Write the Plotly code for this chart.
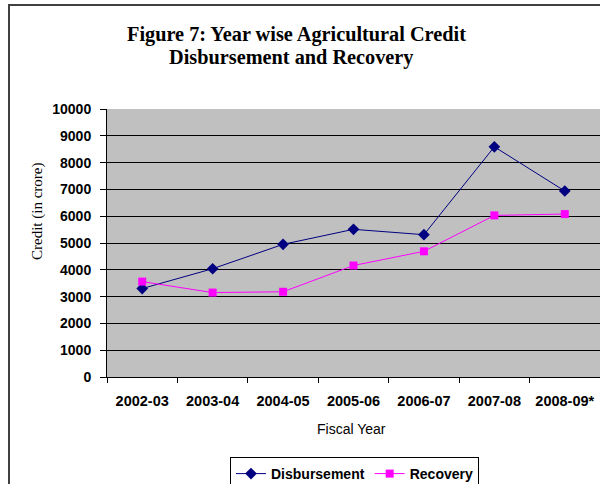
import plotly.graph_objects as go

# Fiscal years and credit figures (in crore)
years = ["2002-03", "2003-04", "2004-05", "2005-06", "2006-07", "2007-08", "2008-09*"]
disbursement = [3300, 4040, 4950, 5510, 5310, 8590, 6940]
recovery = [3560, 3150, 3180, 4160, 4690, 6030, 6080]
y_ticks = list(range(0, 10001, 1000))
y_tick_text = [str(v) for v in y_ticks]

fig = go.Figure()
fig.add_trace(go.Scatter(
    x=years, y=disbursement, name="Disbursement", mode="lines+markers",
    line=dict(color="#000080", width=1),
    marker=dict(symbol="diamond", size=9, color="#000080"),
))
fig.add_trace(go.Scatter(
    x=years, y=recovery, name="Recovery", mode="lines+markers",
    line=dict(color="#FF00FF", width=1),
    marker=dict(symbol="square", size=8, color="#FF00FF"),
))

# pixel helpers for the 107..600 x 109..377 plotting area
def px_x(p):
    return (p - 107) / 493

def px_y(p):
    return (377 - p) / 268

fig.update_layout(
    width=600, height=484,
    margin=dict(l=107, r=0, t=109, b=107, autoexpand=False),
    paper_bgcolor="white",
    plot_bgcolor="#C0C0C0",
    font=dict(family="Arial, Liberation Sans", size=13, color="black"),
    showlegend=True,
    legend=dict(
        orientation="h", x=px_x(230), y=px_y(457), xanchor="left", yanchor="top",
        bordercolor="black", borderwidth=1, bgcolor="white",
        font=dict(size=14, family="Arial, Liberation Sans", weight="bold"),
        itemwidth=30, tracegroupgap=0,
    ),
    xaxis=dict(
        type="category", range=[-0.5, 6.5],
        showgrid=False, showline=True, linecolor="black", linewidth=1,
        ticks="outside", tickson="boundaries", ticklen=5, tickcolor="black",
        tickfont=dict(size=14.5, weight="bold"), ticklabelstandoff=11,
    ),
    yaxis=dict(
        range=[0, 10000], tickvals=y_ticks, ticktext=y_tick_text,
        showgrid=True, gridcolor="black", gridwidth=1,
        showline=True, linecolor="black", linewidth=1,
        ticks="outside", ticklen=6, tickcolor="black",
        tickfont=dict(size=14, weight="bold"), ticklabelstandoff=6,
        zeroline=False,
    ),
    annotations=[
        dict(text="<b>Figure 7: Year wise Agricultural Credit</b>",
             xref="paper", yref="paper", x=px_x(296.5), y=px_y(34.5),
             xanchor="center", yanchor="middle", showarrow=False,
             font=dict(family="Times New Roman, Liberation Serif", size=20.3)),
        dict(text="<b>Disbursement and Recovery</b>",
             xref="paper", yref="paper", x=px_x(290.5), y=px_y(57.5),
             xanchor="center", yanchor="middle", showarrow=False,
             font=dict(family="Times New Roman, Liberation Serif", size=20.3)),
        dict(text="Fiscal Year",
             xref="paper", yref="paper", x=px_x(351), y=px_y(429),
             xanchor="center", yanchor="middle", showarrow=False,
             font=dict(size=14)),
        dict(text="Credit (in crore)", textangle=-90,
             xref="paper", yref="paper", x=px_x(37), y=px_y(212),
             xanchor="center", yanchor="middle", showarrow=False,
             font=dict(family="Times New Roman, Liberation Serif", size=15)),
    ],
    shapes=[
        dict(type="rect", xref="paper", yref="paper",
             x0=px_x(9), x1=1.2, y0=-0.6, y1=px_y(5),
             line=dict(color="#404040", width=2), layer="below"),
    ],
)

fig.write_html("out.html")
